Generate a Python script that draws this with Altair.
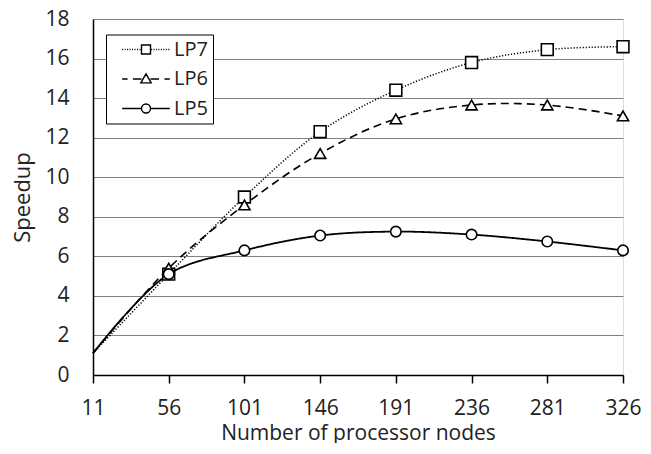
import altair as alt
import pandas as pd

# ---- data ----
nodes = [11, 56, 101, 146, 191, 236, 281, 326]
series_names = ["LP7", "LP6", "LP5"]
lp7 = [1.1, 5.1, 9.0, 12.3, 14.4, 15.8, 16.45, 16.6]
lp6 = [1.1, 5.4, 8.6, 11.2, 12.95, 13.65, 13.65, 13.1]
lp5 = [1.1, 5.1, 6.3, 7.05, 7.25, 7.1, 6.75, 6.3]
y_ticks = [0, 2, 4, 6, 8, 10, 12, 14, 16, 18]

rows = []
for name, vals in zip(series_names, [lp7, lp6, lp5]):
    for n, v in zip(nodes, vals):
        rows.append({"nodes": n, "speedup": v, "series": name})
df = pd.DataFrame(rows)

FONT = "Open Sans"
TXT = "#222222"


# ---- legend symbol paths (line + marker, like Excel's legend) ----
def seg(a, b):
    return f"M{a:.2f},0H{b:.2f}"


def dotted(a, b, step=0.55, dot=0.22):
    out = []
    x = a
    while x + dot <= b + 1e-9:
        out.append(seg(x, x + dot))
        x += step
    return "".join(out)


L = 5.3
sq = "M-1,-1H1V1H-1Z"
tri = "M0,-1.15L1.15,0.85L-1.15,0.85Z"
circ = "M1,0A1,1 0 1,1 -1,0A1,1 0 1,1 1,0Z"
p7 = dotted(-L, -1.1) + dotted(1.1, L) + sq
p6 = seg(-L, -4.1) + seg(-2.9, -1.0) + seg(1.0, 2.9) + seg(4.1, L) + tri
p5 = seg(-L, -1) + seg(1, L) + circ

x_enc = alt.X(
    "nodes:Q",
    scale=alt.Scale(domain=[11, 326], nice=False, zero=False),
    axis=alt.Axis(
        values=nodes,
        tickCount=20,
        title="Number of processor nodes",
        grid=False,
        tickSize=8,
        tickColor="black",
        tickWidth=1.5,
        domainColor="black",
        domainWidth=1.5,
        labelPadding=14,
        titlePadding=4,
        labelFont=FONT,
        titleFont=FONT,
        labelFontSize=21,
        titleFontSize=21,
        titleFontWeight="normal",
        labelColor=TXT,
        titleColor=TXT,
        labelOverlap=False,
        labelFlush=False,
    ),
)
y_enc = alt.Y(
    "speedup:Q",
    scale=alt.Scale(domain=[0, 18], nice=False),
    axis=alt.Axis(
        values=y_ticks,
        tickCount=20,
        title="Speedup",
        grid=True,
        gridColor="#808080",
        gridWidth=1,
        ticks=False,
        domainColor="black",
        domainWidth=1.5,
        labelPadding=24,
        titlePadding=10,
        labelFont=FONT,
        titleFont=FONT,
        labelFontSize=21,
        titleFontSize=22,
        titleFontWeight="normal",
        labelColor=TXT,
        titleColor=TXT,
        labelOverlap=False,
        labelFlush=False,
    ),
)

dash_scale = alt.Scale(domain=series_names, range=[[1.2, 1.8], [8, 5], [1, 0]])
width_scale = alt.Scale(domain=series_names, range=[1.5, 1.8, 1.8])

lines = alt.Chart(df).mark_line(interpolate="catmull-rom", color="black").encode(
    x=x_enc,
    y=y_enc,
    strokeDash=alt.StrokeDash("series:N", scale=dash_scale, legend=None),
    strokeWidth=alt.StrokeWidth("series:N", scale=width_scale, legend=None),
    detail="series:N",
)

points = alt.Chart(df).transform_filter("datum.nodes > 11").mark_point(
    filled=True, fill="white", stroke="black", strokeWidth=1.6, opacity=1
).encode(
    x="nodes:Q",
    y="speedup:Q",
    shape=alt.Shape(
        "series:N",
        scale=alt.Scale(domain=series_names, range=["square", "triangle-up", "circle"]),
        legend=None,
    ),
    size=alt.Size(
        "series:N",
        scale=alt.Scale(domain=series_names, range=[140, 110, 115]),
        legend=None,
    ),
)

# a layer that draws nothing itself (all rows filtered out) and only carries the legend
legend_carrier = alt.Chart(df).transform_filter("false").mark_point(
    filled=False, color="black", strokeWidth=1.4, opacity=1
).encode(
    x="nodes:Q",
    y="speedup:Q",
    shape=alt.Shape(
        "series:N",
        scale=alt.Scale(domain=series_names, range=[p7, p6, p5]),
        legend=alt.Legend(
            title=None,
            orient="none",
            legendX=13,
            legendY=15.5,
            symbolSize=81,
            symbolStrokeWidth=1.4,
            symbolOffset=25,
            labelFontSize=20,
            labelFont=FONT,
            labelColor=TXT,
            labelOffset=18,
            labelExpr="datum.label + '\u00a0\u00a0'",
            rowPadding=9.5,
            padding=5,
            strokeColor="black",
            fillColor="white",
        ),
    ),
)

chart = (
    alt.layer(lines, points, legend_carrier)
    .resolve_scale(shape="independent", size="independent")
    .properties(width=530, height=356, padding={"left": 3, "top": 0, "right": 0, "bottom": 0})
    .configure_view(stroke="black", strokeWidth=1.5)
    .configure(background="white")
)

chart.save("out.html", embed_options={"renderer": "svg", "actions": False})
